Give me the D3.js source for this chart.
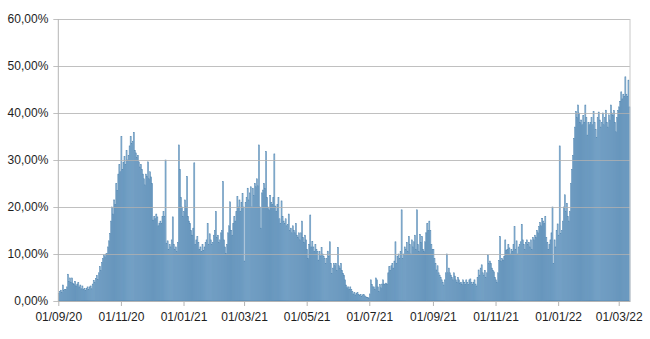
<!DOCTYPE html>
<html>
<head>
<meta charset="utf-8">
<script src="https://cdn.jsdelivr.net/npm/d3@7/dist/d3.min.js"></script>
<style>
  html, body { margin: 0; padding: 0; background: #fff; }
  svg { display: block; font-family: "Liberation Sans", Arial, sans-serif; }
</style>
</head>
<body>
<svg id="chart" width="650" height="339"></svg>
<script>
// Daily test positivity rate (%), one value per day starting 1 Sep 2020
const startDate = "2020-09-01";
const positivity = [
  // Sep 2020
  1.6, 2.0, 2.3, 1.8, 3.4, 2.2, 2.5, 2.4, 3.0, 5.7, 4.2, 4.9, 4.0, 4.9, 3.8, 3.5, 4.2, 3.2, 3.6, 3.9, 3.0, 3.4, 2.6, 3.2, 2.4, 2.7, 2.2, 2.7, 3.0, 2.5,
  // Oct 2020
  3.0, 3.2, 2.6, 3.6, 4.4, 4.0, 4.8, 5.4, 4.6, 6.0, 7.3, 6.5, 8.2, 9.0, 9.8, 9.4, 10.0, 10.1, 11.5, 12.8, 14.4, 17.0, 20.0, 18.5, 21.5, 20.5, 25.0, 23.5, 27.0, 29.0, 27.5,
  // Nov 2020
  35.0, 28.0, 29.5, 30.7, 29.0, 32.0, 30.0, 31.0, 33.0, 35.0, 33.5, 34.0, 35.9, 32.0, 31.5, 30.5, 31.0, 29.6, 28.5, 29.0, 28.0, 27.0, 26.0, 24.7, 27.0, 26.5, 29.6, 26.0, 27.5, 26.4,
  // Dec 2020
  25.0, 17.2, 18.0, 17.5, 18.5, 17.9, 16.0, 16.5, 17.0, 16.5, 18.0, 19.0, 18.0, 30.0, 12.3, 12.8, 11.0, 12.0, 11.5, 13.0, 17.9, 12.0, 11.0, 11.5, 10.5, 12.5, 33.2, 28.0, 22.0, 20.0, 18.0,
  // Jan 2021
  19.0, 21.5, 20.0, 26.5, 18.0, 17.0, 16.5, 15.0, 14.0, 15.5, 29.4, 12.0, 13.0, 13.7, 12.5, 11.0, 11.5, 10.5, 12.0, 10.8, 11.5, 12.5, 13.0, 16.5, 12.0, 14.3, 13.0, 12.0, 12.5, 14.0, 15.0,
  // Feb 2021
  19.0, 13.5, 14.0, 12.5, 13.0, 14.5, 15.0, 25.4, 13.0, 11.5, 10.1, 12.0, 14.5, 16.0, 21.1, 15.0, 14.0, 16.5, 18.0, 17.0, 19.0, 22.2, 20.0, 21.5, 19.0, 21.0, 22.9, 20.0,
  // Mar 2021
  8.5, 21.0, 22.0, 24.0, 21.5, 23.0, 24.3, 20.0, 24.0, 22.5, 25.0, 24.3, 26.0, 24.5, 33.2, 20.0, 15.5, 23.0, 23.6, 25.0, 24.0, 31.8, 22.0, 20.0, 19.4, 22.4, 21.0, 20.5, 22.0, 31.3, 20.2,
  // Apr 2021
  19.0, 20.5, 22.0, 17.5, 16.5, 21.3, 18.0, 17.0, 16.5, 17.5, 16.0, 16.3, 18.5, 15.0, 15.5, 14.5, 16.0, 15.0, 14.5, 16.5, 14.0, 13.5, 14.5, 13.0, 14.5, 17.0, 13.5, 12.5, 14.0, 13.0,
  // May 2021
  11.0, 9.0, 12.0, 18.3, 11.5, 12.7, 11.5, 10.5, 12.0, 11.0, 10.5, 8.7, 10.5, 9.6, 11.4, 10.0, 9.5, 9.0, 8.0, 9.0, 10.6, 9.5, 12.6, 8.0, 5.9, 7.0, 8.0, 7.5, 8.0, 6.5, 11.4,
  // Jun 2021
  7.5, 7.0, 8.0, 6.5, 5.9, 5.5, 4.5, 3.4, 2.8, 3.0, 2.5, 3.0, 2.5, 2.0, 1.5, 1.8, 1.3, 1.6, 1.8, 1.4, 1.2, 1.4, 1.0, 1.3, 1.4, 1.1, 0.9, 0.7, 0.8, 0.6,
  // Jul 2021
  1.5, 4.5, 3.5, 3.0, 3.0, 2.5, 4.9, 4.5, 3.0, 2.0, 3.5, 2.8, 3.6, 4.5, 3.6, 3.6, 3.8, 3.6, 6.0, 7.3, 6.5, 7.5, 8.0, 7.0, 8.5, 12.6, 8.0, 9.5, 10.0, 9.0, 10.5,
  // Aug 2021
  19.4, 9.0, 10.0, 11.5, 11.0, 12.5, 10.5, 13.7, 12.0, 10.0, 13.0, 11.5, 12.6, 14.0, 11.0, 19.4, 12.0, 10.5, 14.2, 12.5, 13.7, 11.0, 10.5, 12.6, 14.5, 16.5, 15.0, 17.0, 15.0, 12.0, 11.0,
  // Sep 2021
  11.0, 9.0, 8.0, 6.6, 7.5, 6.0, 5.5, 5.0, 4.5, 4.0, 3.4, 4.5, 6.0, 10.0, 6.0, 7.0, 6.0, 5.5, 5.0, 4.5, 6.0, 5.3, 4.5, 4.0, 5.0, 4.5, 3.8, 4.0, 3.5, 4.5,
  // Oct 2021
  4.0, 3.5, 4.5, 4.0, 3.5, 4.5, 4.7, 4.0, 3.5, 4.0, 4.5, 3.6, 3.2, 5.0, 6.6, 5.5, 7.0, 7.7, 6.0, 5.5, 6.5, 5.0, 6.0, 9.8, 8.0, 8.5, 8.0, 7.0, 6.5, 6.2, 5.0,
  // Nov 2021
  4.5, 3.9, 6.0, 8.6, 13.7, 8.5, 9.0, 8.7, 9.5, 13.0, 10.8, 11.0, 12.0, 11.3, 10.0, 11.0, 10.5, 12.0, 15.8, 11.0, 12.8, 10.0, 11.5, 12.0, 12.6, 16.3, 13.0, 12.0, 11.0, 12.5,
  // Dec 2021
  13.0, 12.0, 12.5, 11.5, 13.0, 11.0, 13.5, 13.0, 14.0, 13.5, 15.0, 14.5, 15.8, 16.7, 16.0, 17.6, 17.0, 16.5, 18.0, 13.5, 12.5, 11.0, 12.0, 13.0, 14.5, 20.0, 8.0, 13.0, 11.5, 15.0, 16.4,
  // Jan 2022
  14.0, 33.0, 14.4, 15.0, 17.0, 20.0, 22.6, 19.0, 20.8, 18.0, 17.0, 19.0, 25.0, 28.0, 31.0, 34.6, 37.0, 40.3, 39.0, 41.7, 40.0, 38.0, 38.5, 37.5, 39.5, 38.0, 41.7, 39.0, 35.3, 38.0, 37.5,
  // Feb 2022
  38.0, 39.0, 37.5, 40.3, 38.0, 36.5, 34.8, 39.0, 40.2, 38.5, 37.0, 38.0, 40.0, 37.5, 39.0, 40.6, 38.0, 37.0, 39.6, 38.5, 41.7, 40.0, 39.5, 40.5, 38.0, 36.0, 39.0, 40.5,
  // Mar 2022
  41.3, 42.5, 44.5, 43.0, 44.0, 43.5, 47.7, 44.0, 43.5, 47.0, 41.3
];

const xTickDates = ["2020-09-01", "2020-11-01", "2021-01-01", "2021-03-01", "2021-05-01", "2021-07-01",
                    "2021-09-01", "2021-11-01", "2022-01-01", "2022-03-01"];
const xTickLabels = ["01/09/20", "01/11/20", "01/01/21", "01/03/21", "01/05/21", "01/07/21",
                     "01/09/21", "01/11/21", "01/01/22", "01/03/22"];
const yTicks = [0, 10, 20, 30, 40, 50, 60];
const yTickLabels = ["0,00%", "10,00%", "20,00%", "30,00%", "40,00%", "50,00%", "60,00%"];

const parse = d3.utcParse("%Y-%m-%d");
const day0 = parse(startDate);
const series = positivity.map((v, i) => ({ date: d3.utcDay.offset(day0, i), value: v }));
const lastEnd = d3.utcDay.offset(day0, positivity.length);

const margin = { left: 58.3, right: 20, top: 19, bottom: 38 };
const width = 650, height = 339;

const svg = d3.select("#chart");

const x = d3.scaleUtc().domain([day0, lastEnd]).range([margin.left, width - margin.right]);
const y = d3.scaleLinear().domain([0, 60]).range([height - margin.bottom, margin.top]);

// bars, one per day: light fill with a darker outline
svg.append("g")
  .selectAll("rect")
  .data(series)
  .join("rect")
  .attr("x", d => x(d.date))
  .attr("width", d => x(d3.utcDay.offset(d.date, 1)) - x(d.date))
  .attr("y", d => y(d.value))
  .attr("height", d => y(0) - y(d.value))
  .attr("fill", "#98bddd")
  .attr("stroke", "#4b80ac")
  .attr("stroke-width", 0.5);

// horizontal gridlines over the bars, with short outward ticks on the left
const yAxis = d3.axisLeft(y)
  .tickValues(yTicks)
  .tickFormat((d, i) => yTickLabels[i])
  .tickSize(-(width - margin.right - margin.left))
  .tickPadding(10);

const gy = svg.append("g")
  .attr("transform", `translate(${margin.left},0)`)
  .call(yAxis);
gy.select(".domain").remove();
gy.selectAll(".tick line")
  .attr("x1", -5)
  .attr("stroke", "#b0b0b0")
  .attr("stroke-opacity", 0.8);
gy.selectAll(".tick text")
  .attr("fill", "#1e1e1e")
  .style("font-size", "12px");

// vertical frame lines
svg.append("line")
  .attr("x1", margin.left).attr("x2", margin.left)
  .attr("y1", margin.top).attr("y2", y(0))
  .attr("stroke", "#b4b4b4");
svg.append("line")
  .attr("x1", width - margin.right).attr("x2", width - margin.right)
  .attr("y1", margin.top).attr("y2", y(0))
  .attr("stroke", "#c8c8c8");

// bottom axis
const xAxis = d3.axisBottom(x)
  .tickValues(xTickDates.map(parse))
  .tickFormat((d, i) => xTickLabels[i])
  .tickSize(5)
  .tickSizeOuter(0)
  .tickPadding(6);

const gx = svg.append("g")
  .attr("transform", `translate(0,${y(0)})`)
  .call(xAxis);
gx.select(".domain").attr("stroke", "#b4b4b4");
gx.selectAll(".tick line").attr("stroke", "#b4b4b4");
gx.selectAll(".tick text")
  .attr("fill", "#1e1e1e")
  .style("font-size", "12px");
</script>
</body>
</html>
